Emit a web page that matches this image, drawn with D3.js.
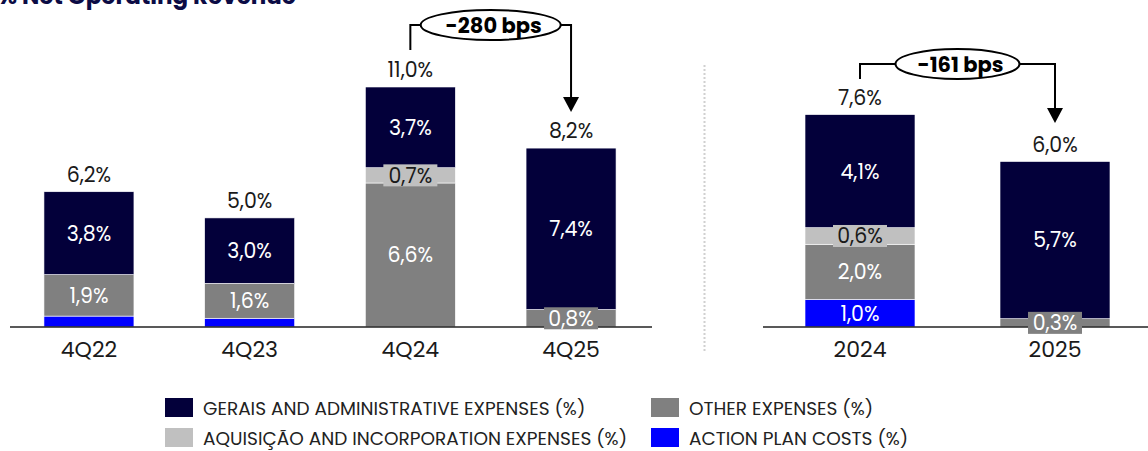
<!DOCTYPE html>
<html>
<head>
<meta charset="utf-8">
<script src="https://cdnjs.cloudflare.com/ajax/libs/d3/7.8.5/d3.min.js"></script>
<style>
	body { margin: 0; background: #fff; }
	svg { display: block; font-family: "Poppins", "Inter", sans-serif; }
</style>
</head>
<body>
<svg id="chart" width="1148" height="451"></svg>
<script>

// quarterly panel
let quarters = ["4Q22", "4Q23", "4Q24", "4Q25"];
let qGerais = [3.8, 3.0, 3.7, 7.4];
let qAquisicao = [0, 0, 0.7, 0];
let qOther = [1.9, 1.6, 6.6, 0.8];
let qActionPlan = [0.5, 0.4, 0, 0];
let qTotals = ["6,2%", "5,0%", "11,0%", "8,2%"];

// yearly panel
let years = ["2024", "2025"];
let yGerais = [4.1, 5.7];
let yAquisicao = [0.6, 0];
let yOther = [2.0, 0.3];
let yActionPlan = [1.0, 0];
let yTotals = ["7,6%", "6,0%"];

let deltas = ["-280 bps", "-161 bps"];

let seriesNames = [
	"GERAIS AND ADMINISTRATIVE EXPENSES (%)",
	"OTHER EXPENSES (%)",
	"AQUISIÇÃO AND INCORPORATION EXPENSES (%)",
	"ACTION PLAN COSTS (%)"
];

let colors = {
	gerais: "#03003a",
	other: "#808080",
	aquisicao: "#c0c0c0",
	action: "#0000ff"
};

let svg = d3.select("#chart");
let baseline = 327;
// stacking order bottom -> top
let keys = ["action", "other", "aquisicao", "gerais"];

svg.append("text")
	.attr("x", 296)
	.attr("y", 4)
	.attr("text-anchor", "end")
	.attr("font-size", 23)
	.attr("font-weight", 700)
	.attr("fill", "#0b0b45")
	.text("% Net Operating Revenue");

function buildRows (cats, gerais, aquisicao, other, action) {
	return cats.map((c, i) => ({cat: c, gerais: gerais[i], aquisicao: aquisicao[i], other: other[i], action: action[i]}));
}

function fmt (v) {
	return v.toFixed(1).replace(".", ",") + "%";
}

function drawPanel (rows, totals, x, y, axisX) {
	let g = svg.append("g");
	let stack = d3.stack().keys(keys)(rows);

	let layers = g.selectAll(".layer")
		.data(stack)
		.enter()
		.append("g")
		.attr("fill", d => colors[d.key]);

	layers.selectAll("rect")
		.data(d => d.filter(s => s[1] - s[0] > 0))
		.enter()
		.append("rect")
		.attr("x", d => x(d.data.cat))
		.attr("width", x.bandwidth())
		.attr("y", d => y(d[1]))
		.attr("height", d => y(d[0]) - y(d[1]))
		.attr("stroke", "#ffffff")
		.attr("stroke-width", 0.6);

	// axis line
	g.append("line")
		.attr("x1", axisX[0])
		.attr("x2", axisX[1])
		.attr("y1", baseline)
		.attr("y2", baseline)
		.attr("stroke", "#222")
		.attr("stroke-width", 1.5);

	// segment labels (skip the tiny action plan slices)
	stack.forEach(layer => {
		layer.forEach(s => {
			let v = s[1] - s[0];
			if (v <= 0) return;
			if (layer.key === "action" && v < 0.6) return;
			let cx = x(s.data.cat) + x.bandwidth() / 2;
			let cy = (y(s[0]) + y(s[1])) / 2;
			let h = y(s[0]) - y(s[1]);
			let dark = layer.key === "aquisicao";
			if (h < 24) {
				g.append("rect")
					.attr("x", cx - 27)
					.attr("y", cy - 11)
					.attr("width", 54)
					.attr("height", 22)
					.attr("fill", colors[layer.key]);
			}
			g.append("text")
				.attr("x", cx)
				.attr("y", cy)
				.attr("dy", "0.36em")
				.attr("text-anchor", "middle")
				.attr("font-size", 20.5)
				.attr("fill", dark ? "#1a1a1a" : "#ffffff")
				.text(fmt(v));
		});
	});

	// totals above bars
	g.selectAll(".total")
		.data(rows)
		.enter()
		.append("text")
		.attr("x", d => x(d.cat) + x.bandwidth() / 2)
		.attr("y", d => y(d.gerais + d.aquisicao + d.other + d.action) - 10)
		.attr("text-anchor", "middle")
		.attr("font-size", 20.5)
		.attr("fill", "#1a1a1a")
		.text((d, i) => totals[i]);

	// category labels
	g.selectAll(".cat")
		.data(rows)
		.enter()
		.append("text")
		.attr("x", d => x(d.cat) + x.bandwidth() / 2)
		.attr("y", baseline + 30)
		.attr("text-anchor", "middle")
		.attr("font-size", 22)
		.attr("fill", "#1a1a1a")
		.text(d => d.cat);
}

function drawDelta (x, from, to, yFrom, yLine, yTo, rx, label) {
	let x1 = x(from) + x.bandwidth() / 2,
			x2 = x(to) + x.bandwidth() / 2,
			mid = (x1 + x2) / 2;

	svg.append("path")
		.attr("d", `M${x1},${yFrom}V${yLine}H${x2}V${yTo - 14}`)
		.attr("fill", "none")
		.attr("stroke", "#000")
		.attr("stroke-width", 2);
	svg.append("path")
		.attr("d", `M${x2 - 8},${yTo - 15}L${x2 + 8},${yTo - 15}L${x2},${yTo}Z`)
		.attr("fill", "#000");
	svg.append("ellipse")
		.attr("cx", mid)
		.attr("cy", yLine)
		.attr("rx", rx)
		.attr("ry", 15)
		.attr("fill", "#fff")
		.attr("stroke", "#000")
		.attr("stroke-width", 2);
	svg.append("text")
		.attr("x", mid + 3)
		.attr("y", yLine)
		.attr("dy", "0.36em")
		.attr("text-anchor", "middle")
		.attr("font-size", 21)
		.attr("font-weight", 700)
		.attr("fill", "#000")
		.text(label);
}

let qRows = buildRows(quarters, qGerais, qAquisicao, qOther, qActionPlan);
let yRows = buildRows(years, yGerais, yAquisicao, yOther, yActionPlan);

let xQ = d3.scaleBand()
	.domain(quarters)
	.range([8.6, 651.4])
	.paddingInner(0.44)
	.paddingOuter(0.22);
let yQ = d3.scaleLinear()
	.domain([0, 11])
	.range([baseline, 87]);

let xY = d3.scaleBand()
	.domain(years)
	.range([762.5, 1152.5])
	.paddingInner(0.436)
	.paddingOuter(0.218);
let yY = d3.scaleLinear()
	.domain([0, 7.65])
	.range([baseline, 116]);

drawPanel(qRows, qTotals, xQ, yQ, [10, 652]);
drawPanel(yRows, yTotals, xY, yY, [763, 1148]);

// dotted divider between the panels
svg.append("line")
	.attr("x1", 704.5)
	.attr("x2", 704.5)
	.attr("y1", 65)
	.attr("y2", 353)
	.attr("stroke", "#d0d0d0")
	.attr("stroke-width", 2)
	.attr("stroke-dasharray", "2,2");

drawDelta(xQ, "4Q24", "4Q25", 50, 25, 112, 70, deltas[0]);
drawDelta(xY, "2024", "2025", 79, 64, 123, 62, deltas[1]);

// legend, two columns
let legendItems = [
	{name: seriesNames[0], key: "gerais", col: 0, row: 0},
	{name: seriesNames[1], key: "other", col: 1, row: 0},
	{name: seriesNames[2], key: "aquisicao", col: 0, row: 1},
	{name: seriesNames[3], key: "action", col: 1, row: 1}
];
let legendCols = [165, 651];

let legend = svg.append("g")
	.selectAll("g")
	.data(legendItems)
	.enter()
	.append("g")
	.attr("transform", d => `translate(${legendCols[d.col]},${398 + d.row * 30})`);

legend.append("rect")
	.attr("width", 28)
	.attr("height", 19)
	.attr("fill", d => colors[d.key]);

legend.append("text")
	.attr("x", 38)
	.attr("y", 10)
	.attr("dy", "0.36em")
	.attr("font-size", 18.5)
	.attr("fill", "#222")
	.text(d => d.name);

</script>
</body>
</html>
